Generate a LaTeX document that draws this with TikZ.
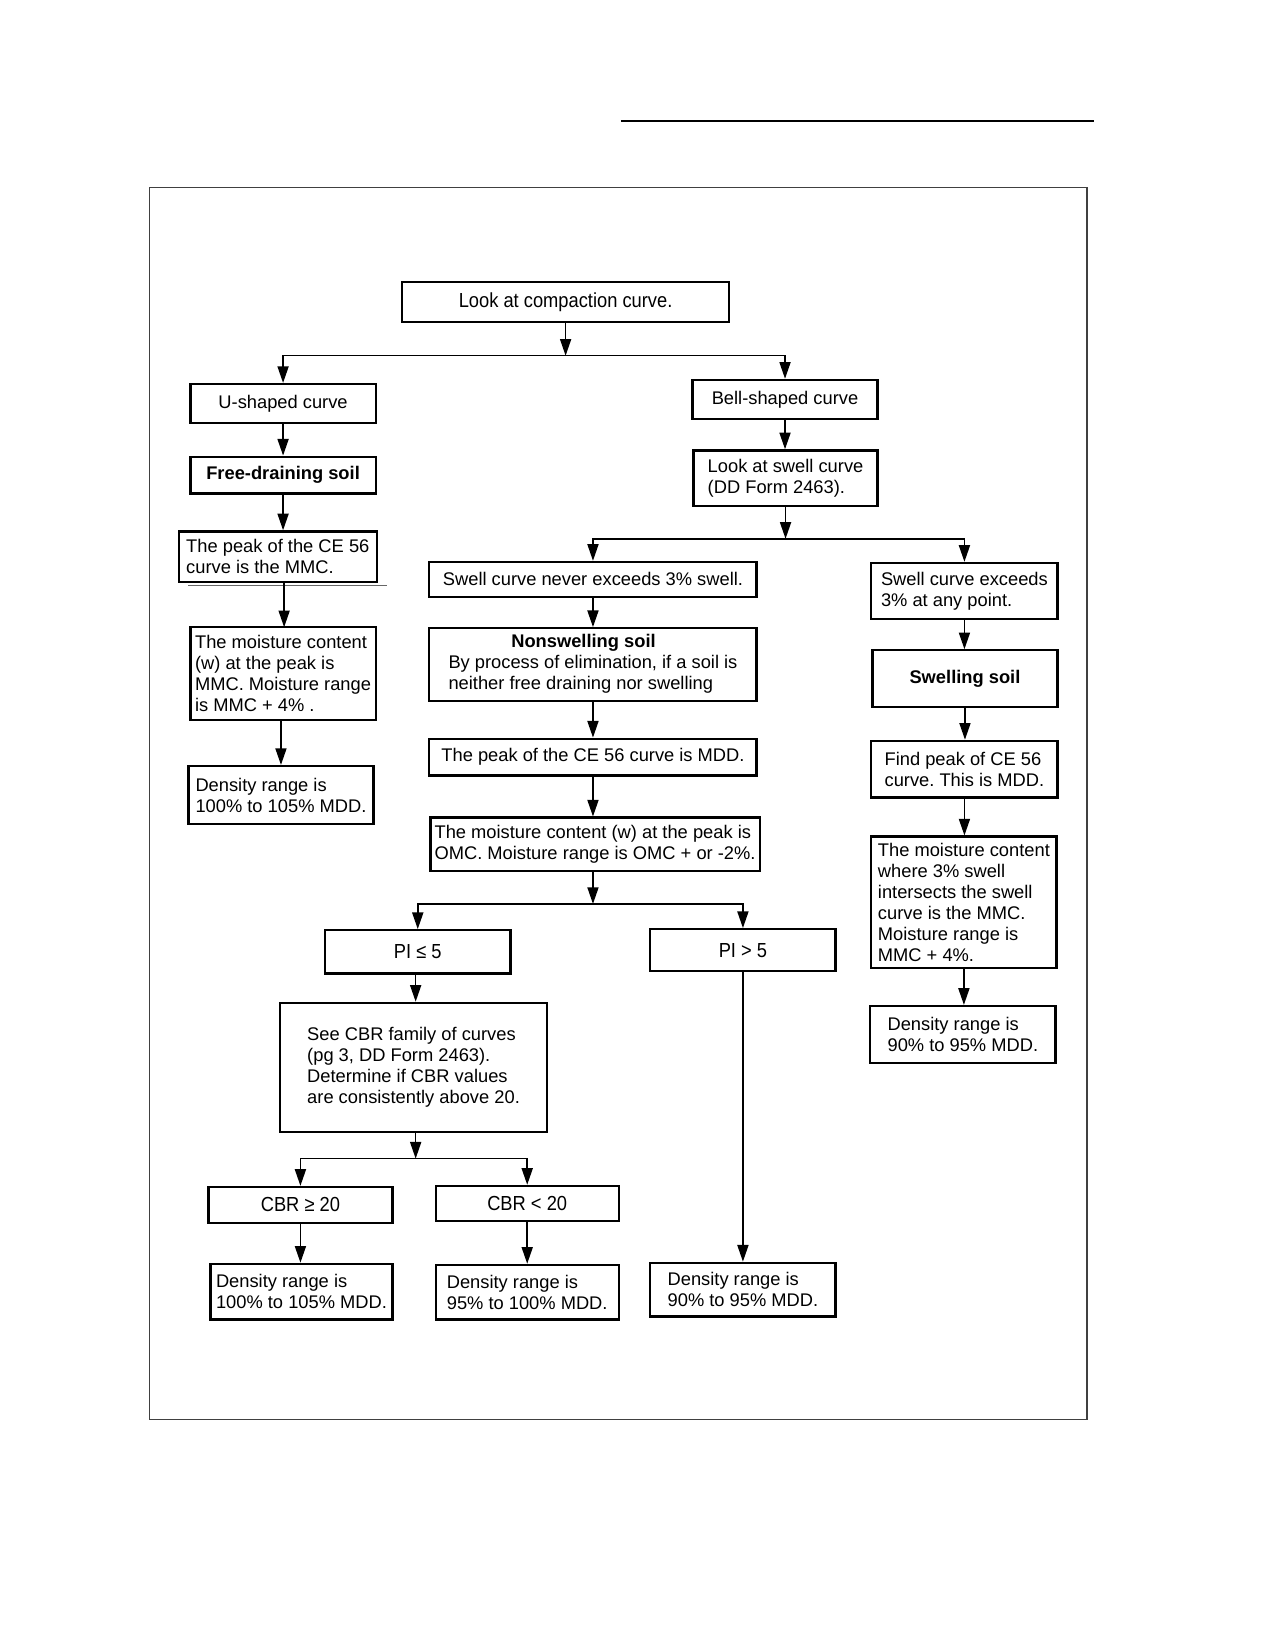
\documentclass[tikz,border=0pt]{standalone}
\usepackage{fontspec}
\setmainfont{Liberation Sans}
\newfontfamily\narrowfont[FakeStretch=0.9]{Liberation Sans}
\usetikzlibrary{arrows.meta}
\newdimen\upx
\upx=0.02cm
\frenchspacing
\begin{document}
\begin{tikzpicture}[x=0.02cm,y=-0.02cm,
  every node/.style={font=\fontsize{9.9}{11.3}\selectfont},
  box/.style={draw, line width=1.25pt, inner sep=0pt, rectangle},
  wh/.style 2 args={minimum width=#1\upx, minimum height=#2\upx},
  lbox/.style={box, align=left},
  cbox/.style={box, align=center},
  nar/.style={font=\narrowfont\fontsize{11}{12.5}\selectfont},
  arr/.style={line width=0.8pt, -{Triangle[length=9pt,width=6pt]}}]
\useasboundingbox (0,0) rectangle (1209,1568);
% page decorations
\draw[line width=1.5pt] (590,115) -- (1040,115);
\draw[line width=0.6pt, black!75] (142,178) rectangle (1033,1349);
% nodes
\node[cbox, nar, wh={311}{38}] (top) at (537.5,287) {Look at compaction curve.};
\node[cbox, wh={176}{37}] (ush) at (269,383.5) {U-shaped curve};
\node[cbox, wh={176}{35}, font=\bfseries\fontsize{9.9}{11.3}\selectfont] (fd) at (269,451.5) {Free-draining soil};
\node[lbox, wh={188}{48}] (ce) at (264,529) {The peak of the CE 56\\curve is the MMC.};
\node[lbox, wh={176}{88}] (mmc) at (269,640) {The moisture content\\(w) at the peak is\\MMC. Moisture range\\is MMC + 4\% .};
\node[lbox, wh={176}{55}] (d1) at (267,755.5) {Density range is\\100\% to 105\% MDD.};
\node[cbox, wh={176}{37}] (bell) at (746,379.5) {Bell-shaped curve};
\node[lbox, wh={175}{53}] (ls) at (746.5,454.5) {Look at swell curve\\(DD Form 2463).};
\node[cbox, wh={311}{33}] (sn) at (563.5,550.5) {Swell curve never exceeds 3\% swell.};
\node[lbox, wh={177}{53}] (se) at (916.5,561.5) {Swell curve exceeds\\3\% at any point.};
\node[box, wh={311}{69}] (ns) at (563.5,631.5) {\begin{tabular}{@{}l@{}}\multicolumn{1}{@{}c@{}}{\bfseries Nonswelling soil\hspace*{18\upx}}\\By process of elimination, if a soil is\\neither free draining nor swelling\end{tabular}};
\node[cbox, wh={311}{35}] (pm) at (563.5,719.5) {The peak of the CE 56 curve is MDD.};
\node[lbox, wh={313}{51}] (omc) at (565.5,802.5) {The moisture content (w) at the peak is\\OMC. Moisture range is OMC + or -2\%.};
\node[cbox, nar, wh={176}{41}] (pia) at (397,904.5) {PI ≤ 5};
\node[cbox, nar, wh={176}{40}] (pib) at (706,903) {PI > 5};
\node[lbox, wh={254}{123}] (cbr) at (393,1014.5) {See CBR family of curves\\(pg 3, DD Form 2463).\\Determine if CBR values\\are consistently above 20.};
\node[cbox, nar, wh={175}{34}] (ca) at (285.5,1145) {CBR ≥ 20};
\node[cbox, nar, wh={174}{33}] (cb) at (501,1143.5) {CBR < 20};
\node[lbox, wh={173}{53}] (d2) at (286.5,1227.5) {Density range is\\100\% to 105\% MDD.};
\node[lbox, wh={174}{52}] (d3) at (501,1228) {Density range is\\95\% to 100\% MDD.};
\node[lbox, wh={176}{51}] (d4) at (706,1225.5) {Density range is\\90\% to 95\% MDD.};
\node[cbox, wh={176}{54}, font=\bfseries\fontsize{9.9}{11.3}\selectfont] (sw) at (917,645) {Swelling soil};
\node[lbox, wh={177}{54}] (fp) at (916.5,731) {Find peak of CE 56\\curve. This is MDD.};
\node[lbox, wh={176}{125}] (mw) at (916,857.5) {The moisture content\\where 3\% swell\\intersects the swell\\curve is the MMC.\\Moisture range is\\MMC + 4\%.};
\node[lbox, wh={176}{54}] (d5) at (915,983) {Density range is\\90\% to 95\% MDD.};
% stray rule under the CE 56 box
\draw[line width=0.5pt, black!60] (179,556) -- (368,556);
% junction points
\coordinate (j1) at (537.5,338);
\coordinate (j2) at (746.5,512);
\coordinate (j3) at (563.5,859);
\coordinate (j4) at (395,1101);
% connectors
\draw[arr] (top.south) -- (j1);
\draw[arr] (j1) -| (ush.north);
\draw[arr] (j1) -| (bell.north);
\draw[arr] (ush.south) -- (ush.south |- fd.north);
\draw[arr] (fd.south) -- (fd.south |- ce.north);
\draw[arr] (270,553) -- (270,596);
\draw[arr] (d1.north |- mmc.south) -- (d1.north);
\draw[arr] (bell.south) -- (bell.south |- ls.north);
\draw[arr] (ls.south) -- (j2);
\draw[arr] (j2) -| (sn.north);
\draw[arr] (j2) -| (se.north);
\draw[arr] (sn.south) -- (sn.south |- ns.north);
\draw[arr] (ns.south) -- (ns.south |- pm.north);
\draw[arr] (pm.south) -- (pm.south |- omc.north);
\draw[arr] (pm.south |- omc.south) -- (j3);
\draw[arr] (j3) -| (pia.north);
\draw[arr] (j3) -| (pib.north);
\draw[arr] (j4 |- pia.south) -- (j4 |- cbr.north);
\draw[arr] (j4 |- cbr.south) -- (j4);
\draw[arr] (j4) -| (ca.north);
\draw[arr] (j4) -| (cb.north);
\draw[arr] (ca.south) -- (ca.south |- d2.north);
\draw[arr] (cb.south) -- (cb.south |- d3.north);
\draw[arr] (pib.south) -- (pib.south |- d4.north);
\draw[arr] (se.south) -- (se.south |- sw.north);
\draw[arr] (sw.south) -- (sw.south |- fp.north);
\draw[arr] (fp.south) -- (fp.south |- mw.north);
\draw[arr] (mw.south) -- (mw.south |- d5.north);
\end{tikzpicture}
\end{document}
